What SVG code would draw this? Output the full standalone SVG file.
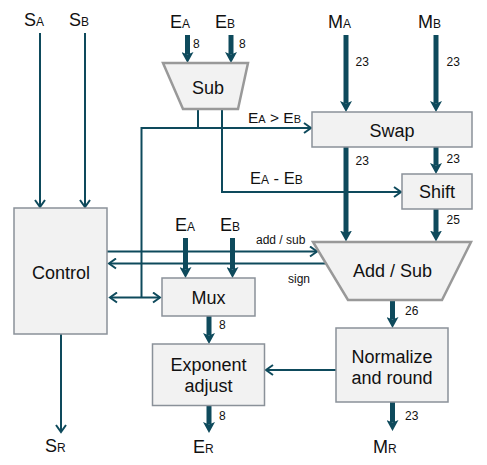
<svg xmlns="http://www.w3.org/2000/svg" width="487" height="465" viewBox="0 0 487 465">
<style>
text{font-family:"Liberation Sans",Arial,sans-serif;fill:#111}
.lbl{font-size:18px}
.sub{font-size:12px}
.num{font-size:12px}
.box{fill:#f2f2f2;stroke:#8a9199;stroke-width:1.5}
.trap{fill:#f2f2f2;stroke:#999;stroke-width:2.5}
.bt{font-size:18px;text-anchor:middle}
.thin{stroke:#0e4a5c;stroke-width:2;fill:none;marker-end:url(#ah)}
.plain{stroke:#0e4a5c;stroke-width:2;fill:none}
.thick{stroke:#0e4a5c;stroke-width:5;fill:none;marker-end:url(#th)}
.thickp{stroke:#0e4a5c;stroke-width:5;fill:none}
</style>
<defs>
<marker id="th" markerUnits="userSpaceOnUse" viewBox="0 0 11 12" markerWidth="11" markerHeight="12" refX="2.5" refY="6" orient="auto">
<path d="M0,0 L11,6 L0,12 L2.5,6 z" fill="#0e4a5c"/>
</marker>
<marker id="ah" markerUnits="userSpaceOnUse" viewBox="-1 -1 10 12" markerWidth="10" markerHeight="12" refX="7" refY="5" orient="auto">
<path d="M0,0 L7,5 L0,10" fill="none" stroke="#0e4a5c" stroke-width="2"/>
</marker>
<marker id="ahs" markerUnits="userSpaceOnUse" viewBox="-1 -1 10 12" markerWidth="10" markerHeight="12" refX="7" refY="5" orient="auto-start-reverse">
<path d="M0,0 L7,5 L0,10" fill="none" stroke="#0e4a5c" stroke-width="2"/>
</marker>
</defs>

<g id="connectors">
<!-- sign inputs -->
<line class="thin" x1="40" y1="33" x2="40" y2="207"/>
<line class="thin" x1="85" y1="33" x2="85" y2="207"/>
<!-- exponent inputs to Sub -->
<line class="thick" x1="187.5" y1="35" x2="187.5" y2="54.5"/>
<line class="thick" x1="231" y1="35" x2="231" y2="54.5"/>
<!-- mantissa inputs to Swap -->
<line class="thick" x1="346" y1="35" x2="346" y2="103.5"/>
<line class="thick" x1="436" y1="35" x2="436" y2="103.5"/>
<!-- Sub to Swap (EA > EB) and to Control/Mux -->
<polyline class="plain" points="198,109 198,128"/>
<line class="thin" x1="141.5" y1="128" x2="311" y2="128"/>
<line class="plain" x1="141.5" y1="127" x2="141.5" y2="297.5"/>
<line class="plain" x1="110" y1="297.5" x2="160" y2="297.5" marker-start="url(#ahs)" marker-end="url(#ah)"/>
<!-- Sub to Shift (EA - EB) -->
<polyline class="thin" points="222,109 222,192 401,192"/>
<!-- Swap outputs -->
<line class="thick" x1="346" y1="147" x2="346" y2="233"/>
<line class="thick" x1="436" y1="147" x2="436" y2="165.5"/>
<line class="thick" x1="436" y1="209" x2="436" y2="233"/>
<!-- control signals -->
<line class="thin" x1="107" y1="251.5" x2="317" y2="251.5"/>
<line class="thin" x1="326" y1="263.5" x2="109" y2="263.5"/>
<!-- exponent inputs to Mux -->
<line class="thick" x1="185.5" y1="238" x2="185.5" y2="269.5"/>
<line class="thick" x1="232.5" y1="238" x2="232.5" y2="269.5"/>
<!-- Mux to Exponent adjust -->
<line class="thick" x1="209" y1="316" x2="209" y2="335.5"/>
<!-- Exponent adjust to ER -->
<line class="thick" x1="209" y1="405.5" x2="209" y2="424.5"/>
<!-- Control to SR -->
<line class="thin" x1="61" y1="334" x2="61" y2="432"/>
<!-- Add/Sub to Normalize -->
<line class="thick" x1="392.5" y1="300" x2="392.5" y2="319.5"/>
<!-- Normalize to MR -->
<line class="thick" x1="392.5" y1="402" x2="392.5" y2="422.5"/>
<!-- Normalize to Exponent adjust -->
<line class="thin" x1="336" y1="370" x2="266" y2="370"/>
</g>

<g id="labels">
<text class="lbl" x="24" y="26">S<tspan class="sub">A</tspan></text>
<text class="lbl" x="69" y="26">S<tspan class="sub">B</tspan></text>
<text class="lbl" x="170" y="28">E<tspan class="sub">A</tspan></text>
<text class="lbl" x="215" y="28">E<tspan class="sub">B</tspan></text>
<text class="lbl" x="328" y="28">M<tspan class="sub">A</tspan></text>
<text class="lbl" x="418" y="28">M<tspan class="sub">B</tspan></text>
<text class="num" x="193" y="47.5">8</text>
<text class="num" x="239" y="47.5">8</text>
<text class="num" x="355.5" y="66">23</text>
<text class="num" x="446.5" y="66">23</text>
<text class="num" x="355.5" y="165">23</text>
<text class="num" x="446.5" y="163">23</text>
<text class="num" x="446.5" y="224">25</text>
<text class="num" x="405" y="315">26</text>
<text class="num" x="405" y="419.5">23</text>
<text class="num" x="219" y="329">8</text>
<text class="num" x="219" y="420">8</text>
<text style="font-size:15.5px" x="248" y="123">E<tspan style="font-size:11px">A</tspan> &gt; E<tspan style="font-size:11px">B</tspan></text>
<text style="font-size:16.5px" x="250" y="183.5">E<tspan style="font-size:12px">A</tspan> - E<tspan style="font-size:12px">B</tspan></text>
<text class="num" x="256" y="244">add / sub</text>
<text class="num" x="288" y="283">sign</text>
<text class="lbl" x="175" y="231">E<tspan class="sub">A</tspan></text>
<text class="lbl" x="220" y="231">E<tspan class="sub">B</tspan></text>
<text class="lbl" x="45" y="452">S<tspan class="sub">R</tspan></text>
<text class="lbl" x="193" y="453">E<tspan class="sub">R</tspan></text>
<text class="lbl" x="373" y="453">M<tspan class="sub">R</tspan></text>
</g>

<g id="sub">
<polygon class="trap" points="163,63 248,63 238,109 183,109"/>
<text class="bt" x="208" y="94">Sub</text>
</g>
<g id="swap">
<rect class="box" x="312" y="112" width="160" height="35"/>
<text class="bt" x="392" y="136.5">Swap</text>
</g>
<g id="shift">
<rect class="box" x="402" y="174" width="70" height="35"/>
<text class="bt" x="437" y="198">Shift</text>
</g>
<g id="addsub">
<polygon class="trap" points="313,242 471,242 442,300 348,300"/>
<text class="bt" x="392.5" y="277">Add / Sub</text>
</g>
<g id="control">
<rect class="box" x="14" y="208" width="93" height="126"/>
<text class="bt" x="61" y="279">Control</text>
</g>
<g id="mux">
<rect class="box" x="162" y="278" width="93" height="38"/>
<text class="bt" x="208.5" y="304">Mux</text>
</g>
<g id="expadj">
<rect class="box" x="152.5" y="344" width="112" height="61.5"/>
<text class="bt" x="208.5" y="371">Exponent</text>
<text class="bt" x="208.5" y="392">adjust</text>
</g>
<g id="normalize">
<rect class="box" x="336" y="328" width="112" height="74"/>
<text class="bt" x="392" y="362.5">Normalize</text>
<text class="bt" x="392" y="383.5">and round</text>
</g>
</svg>
